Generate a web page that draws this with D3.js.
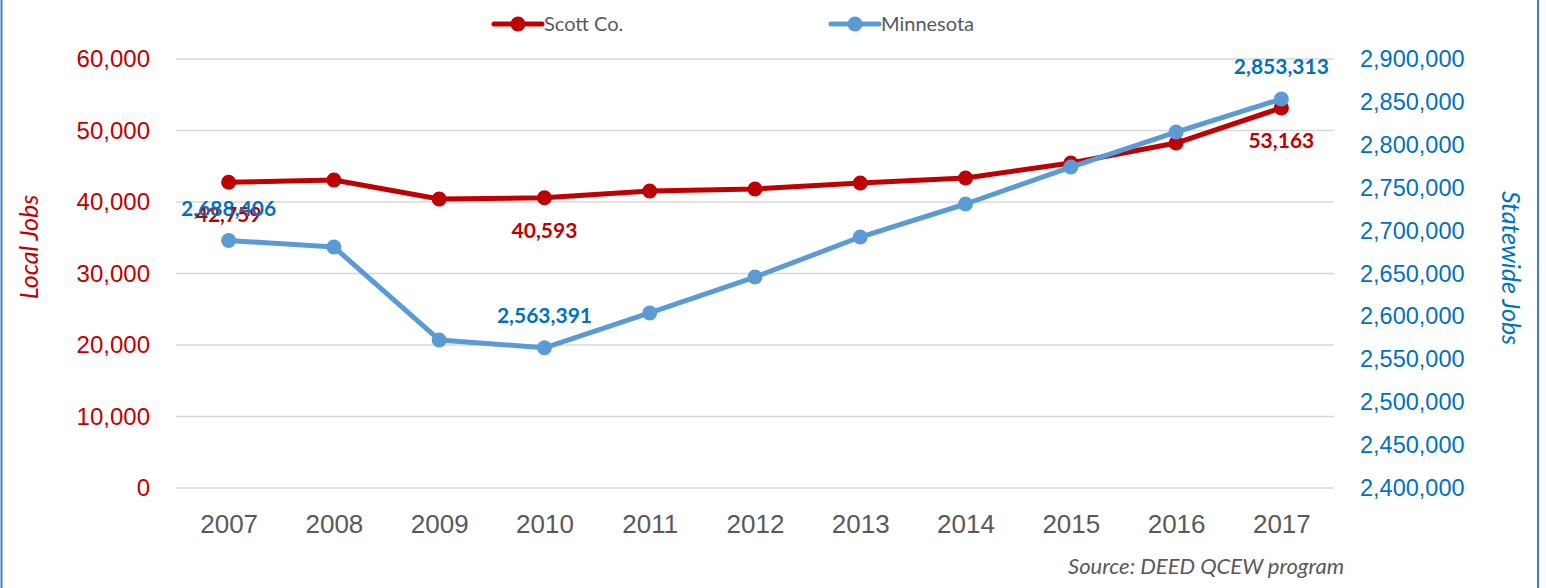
<!DOCTYPE html>
<html>
<head>
<meta charset="utf-8">
<script src="https://cdn.jsdelivr.net/npm/d3@7"></script>
<style>
  body { margin: 0; background: #fff; }
  svg { display: block; font-family: Lato, 'Open Sans', sans-serif; }
</style>
</head>
<body>
<svg width="1546" height="588"></svg>
<script>
// Chart data
let years = ['2007', '2008', '2009', '2010', '2011', '2012', '2013', '2014', '2015', '2016', '2017'];
let scottJobs = [42759, 43080, 40420, 40593, 41540, 41820, 42660, 43360, 45450, 48250, 53163];
let mnJobs = [2688406, 2680900, 2572500, 2563391, 2604000, 2645900, 2692500, 2731000, 2774100, 2814900, 2853313];
let leftTicks = [0, 10000, 20000, 30000, 40000, 50000, 60000];
let rightTicks = [2400000, 2450000, 2500000, 2550000, 2600000, 2650000, 2700000, 2750000, 2800000, 2850000, 2900000];
// which points carry a data label
let scottLabelled = ['2007', '2010', '2017'];
let mnLabelled = ['2007', '2010', '2017'];

let svg = d3.select('svg');
let width = +svg.attr('width');
let height = +svg.attr('height');

let red = '#C00000';
let blue = '#5B9BD5';
let blueText = '#0070C0';
let grey = '#595959';

let plotLeft = 176, plotRight = 1334, plotTop = 59, plotBottom = 488;

let x = d3.scalePoint().domain(years).range([plotLeft, plotRight]).padding(0.5);
let yLeft = d3.scaleLinear().domain([0, 60000]).range([plotBottom, plotTop]);
let yRight = d3.scaleLinear().domain([2400000, 2900000]).range([plotBottom, plotTop]);
let fmt = d3.format(',');

// frame
svg.append('line').attr('x1', 1.5).attr('x2', 1.5).attr('y1', 0).attr('y2', height)
  .attr('stroke', '#3F7FC8').attr('stroke-width', 2);
svg.append('line').attr('x1', 1538).attr('x2', 1538).attr('y1', 0).attr('y2', height)
  .attr('stroke', '#3F7FC8').attr('stroke-width', 2);

// gridlines
svg.append('g').selectAll('line').data(leftTicks).enter().append('line')
  .attr('x1', plotLeft).attr('x2', plotRight)
  .attr('y1', d => yLeft(d)).attr('y2', d => yLeft(d))
  .attr('stroke', '#D9D9D9').attr('stroke-width', 1.5);

// left axis
let leftAxis = svg.append('g')
  .attr('transform', 'translate(' + (plotLeft - 26) + ',0)')
  .call(d3.axisLeft(yLeft).tickValues(leftTicks).tickFormat(fmt).tickSize(0).tickPadding(0));
leftAxis.select('.domain').remove();
leftAxis.selectAll('text').attr('fill', red).style('font-size', '24px');

// right axis
let rightAxis = svg.append('g')
  .attr('transform', 'translate(' + (plotRight + 26) + ',0)')
  .call(d3.axisRight(yRight).tickValues(rightTicks).tickFormat(fmt).tickSize(0).tickPadding(0));
rightAxis.select('.domain').remove();
rightAxis.selectAll('text').attr('fill', blueText).style('font-size', '23.5px');

// x axis
let xAxis = svg.append('g')
  .attr('transform', 'translate(0,' + (plotBottom + 27) + ')')
  .call(d3.axisBottom(x).tickSize(0).tickPadding(0));
xAxis.select('.domain').remove();
xAxis.selectAll('text').attr('fill', grey).style('font-size', '26px').attr('dy', '0.71em');

// axis titles
svg.append('text')
  .attr('transform', 'translate(38,247) rotate(-90)')
  .attr('text-anchor', 'middle')
  .attr('fill', red).style('font-size', '25px').style('font-style', 'italic')
  .text('Local Jobs');
svg.append('text')
  .attr('transform', 'translate(1502,268) rotate(90)')
  .attr('text-anchor', 'middle')
  .attr('fill', blueText).style('font-size', '25px').style('font-style', 'italic')
  .text('Statewide Jobs');

// series
let series = [
  { name: 'Scott Co.', values: scottJobs, y: yLeft, color: red, labelColor: red, labelled: scottLabelled, dy: 40 },
  { name: 'Minnesota', values: mnJobs, y: yRight, color: blue, labelColor: blueText, labelled: mnLabelled, dy: -25 }
];

series.forEach(s => {
  let line = d3.line().x((d, i) => x(years[i])).y(d => s.y(d));
  svg.append('path').datum(s.values)
    .attr('d', line)
    .attr('fill', 'none')
    .attr('stroke', s.color)
    .attr('stroke-width', 5)
    .attr('stroke-linejoin', 'round');
  svg.append('g').selectAll('circle').data(s.values).enter().append('circle')
    .attr('cx', (d, i) => x(years[i]))
    .attr('cy', d => s.y(d))
    .attr('r', 7.5)
    .attr('fill', s.color);
});

// data labels
series.forEach(s => {
  svg.append('g').selectAll('text')
    .data(s.values.map((v, i) => ({ year: years[i], v: v })).filter(d => s.labelled.includes(d.year)))
    .enter().append('text')
    .attr('x', d => x(d.year))
    .attr('y', d => s.y(d.v) + s.dy)
    .attr('text-anchor', 'middle')
    .attr('fill', s.labelColor)
    .style('font-size', '21px')
    .style('font-weight', 'bold')
    .text(d => fmt(d.v));
});

// legend
let legend = svg.append('g');
let legendItems = [
  { name: 'Scott Co.', color: red, x: 494 },
  { name: 'Minnesota', color: blue, x: 831 }
];
legendItems.forEach(item => {
  let g = legend.append('g').attr('transform', 'translate(' + item.x + ',24)');
  g.append('line').attr('x1', 0).attr('x2', 48).attr('stroke', item.color).attr('stroke-width', 5).attr('stroke-linecap', 'round');
  g.append('circle').attr('cx', 24).attr('r', 7.5).attr('fill', item.color);
  g.append('text').attr('x', 50).attr('dy', '0.35em').attr('fill', grey).style('font-size', '20px').text(item.name);
});

// source note
svg.append('text')
  .attr('x', 1344).attr('y', 574)
  .attr('text-anchor', 'end')
  .attr('fill', grey)
  .style('font-size', '22px')
  .style('font-style', 'italic')
  .text('Source: DEED QCEW program');
</script>
</body>
</html>
